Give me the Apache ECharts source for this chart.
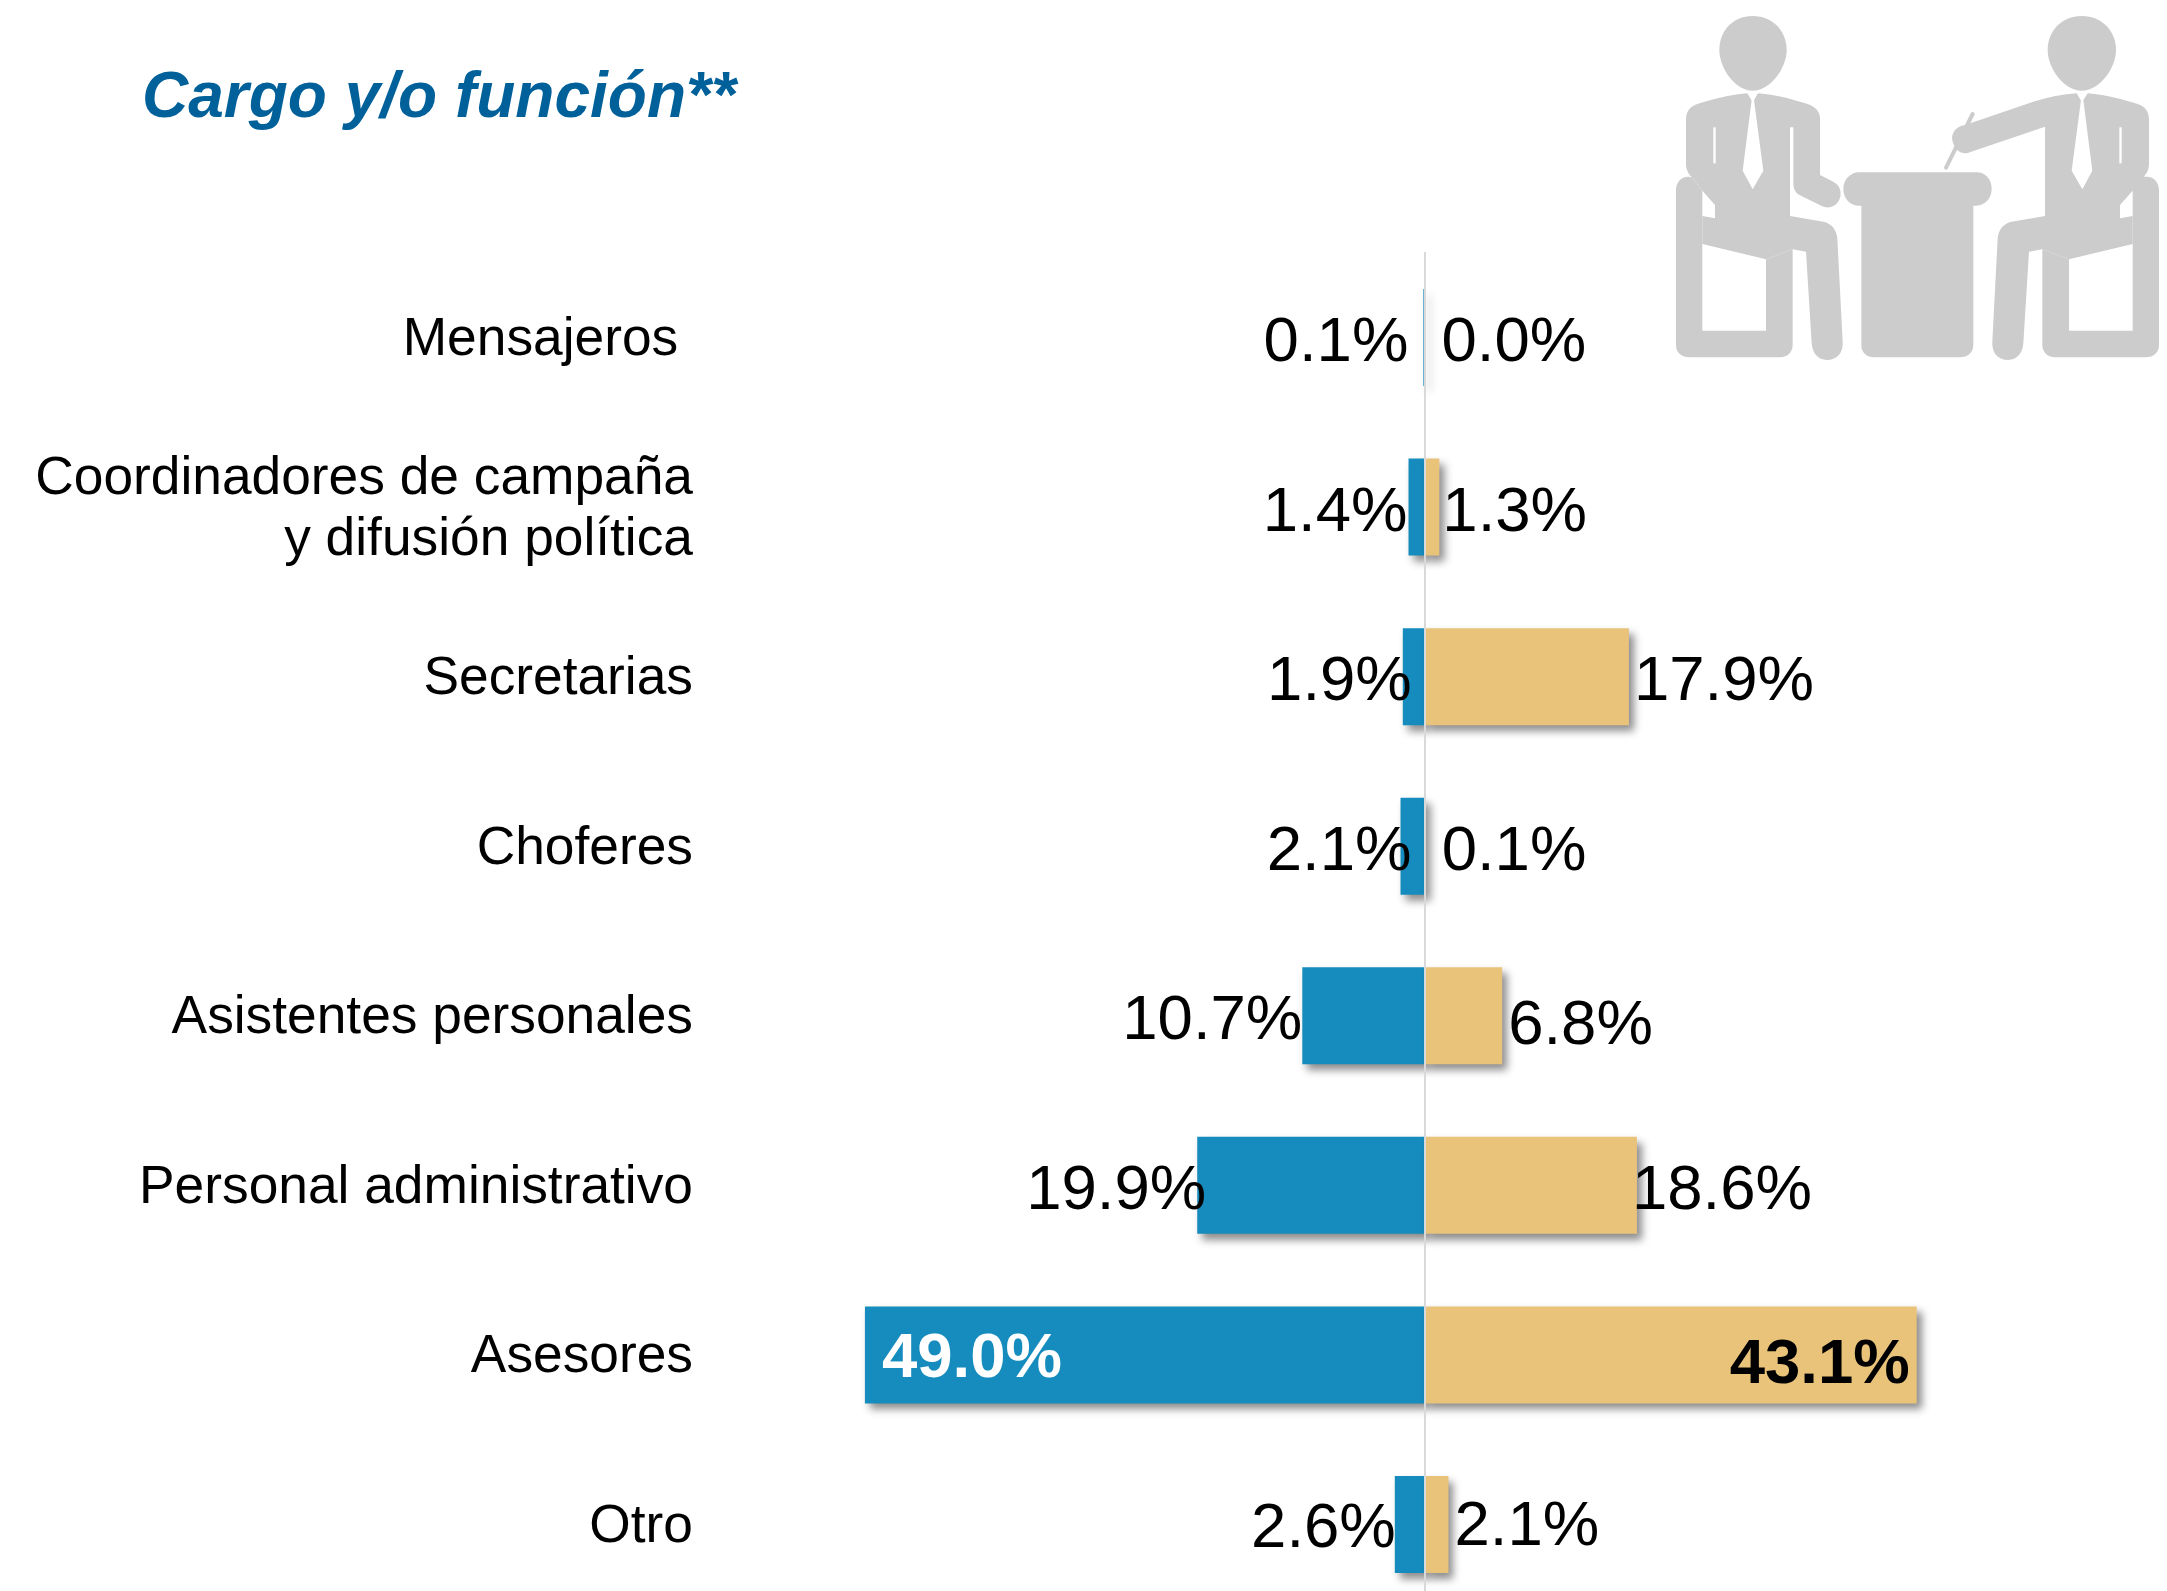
<!DOCTYPE html>
<html><head><meta charset="utf-8">
<style>html,body{margin:0;padding:0;background:#fff}#c{width:2167px;height:1591px}</style>
<script src="https://cdn.jsdelivr.net/npm/echarts@6/dist/echarts.min.js"></script>
</head><body><div id="c"></div>
<script>
const titleText = 'Cargo y/o función**';
const categories = ['Mensajeros ', 'Coordinadores de campaña\ny difusión política', 'Secretarias', 'Choferes', 'Asistentes personales', 'Personal administrativo', 'Asesores', 'Otro'];
const blueValues = [0.1, 1.4, 1.9, 2.1, 10.7, 19.9, 49.0, 2.6];
const goldValues = [0.0, 1.3, 17.9, 0.1, 6.8, 18.6, 43.1, 2.1];
// manual label nudges (layout only)
const blueNudge = [[-15,6],[-1,6],[9,6],[11,6],[0,6],[9,6],[0,5],[1,5]];
const goldNudge = [[17,6],[3,6],[5,6],[16,6],[6,11],[-5,6],[0,11],[6,3]];
const insideRow = 6;

const iconParts = [
 {fill:'#CCCCCC', d:'M278 48 C340 48 380 95 380 150 C380 205 330 272 278 272 C226 272 178 205 178 150 C178 95 216 48 278 48 Z'},
 {fill:'#CCCCCC', d:'M262 280 C205 284 150 300 110 313 C90 320 78 335 78 358 L78 490 C78 508 84 520 95 532 L127 572 L165 615 L165 655 L127 648 L127 732 L318 778 L398 748 L438 755 L455 1030 C457 1060 475 1080 500 1080 C530 1080 550 1060 548 1025 L532 715 C530 690 515 670 490 665 L390 648 L390 382 L400 382 L400 550 C400 568 408 580 420 586 L485 618 C510 630 535 615 541 590 C545 565 535 555 520 545 L480 525 L480 355 C480 335 465 320 445 313 C410 302 350 284 294 280 L278 305 Z'},
 {fill:'#CCCCCC', d:'M85 530 C62 530 48 548 48 570 L48 1035 C48 1058 65 1072 88 1072 L360 1072 C383 1072 398 1055 398 1035 L398 748 L318 778 L318 992 L127 992 L127 572 L95 532 Z'},
 {fill:'#FFFFFF', d:'M262 278 L275 300 L248 512 L278 568 L310 512 L282 300 L294 278 Z'},
 {fill:'#FFFFFF', d:'M160 382 L167 382 L167 490 L160 490 Z'},
 {fill:'#CCCCCC', d:'M598 517 L950 517 C978 517 995 540 995 566 C995 595 975 617 945 617 L940 617 L940 1035 C940 1058 922 1072 900 1072 L642 1072 C620 1072 604 1058 604 1035 L604 617 L598 617 C570 617 550 595 550 566 C550 540 570 517 598 517 Z'},
 {fill:'#CCCCCC', d:'M1265 48 C1328 48 1368 95 1368 150 C1368 205 1318 272 1265 272 C1212 272 1163 205 1163 150 C1163 95 1203 48 1265 48 Z'},
 {fill:'#CCCCCC', d:'M1283 280 C1340 284 1395 300 1435 313 C1455 320 1467 335 1467 358 L1467 490 C1467 508 1461 520 1450 532 L1418 572 L1380 615 L1380 655 L1418 648 L1418 732 L1227 778 L1147 748 L1107 755 L1090 1030 C1088 1060 1070 1080 1045 1080 C1015 1080 995 1060 997 1025 L1013 715 C1015 690 1030 670 1055 665 L1155 648 L1155 380 L925 458 C905 465 885 450 878 425 C870 400 890 378 915 375 L935 368 L1100 312 C1160 292 1210 282 1250 280 L1265 305 Z'},
 {fill:'#CCCCCC', d:'M1418 572 L1418 530 L1460 530 C1483 530 1497 548 1497 570 L1497 1035 C1497 1058 1480 1072 1457 1072 L1185 1072 C1162 1072 1147 1055 1147 1035 L1147 748 L1227 778 L1227 992 L1418 992 Z'},
 {fill:'#FFFFFF', d:'M1283 278 L1270 300 L1297 512 L1267 568 L1235 512 L1263 300 L1251 278 Z'},
 {fill:'#FFFFFF', d:'M1378 382 L1385 382 L1385 490 L1378 490 Z'},
 {fill:'none', stroke:'#CCCCCC', lineWidth:12, d:'M938 342 L858 503'}
];
iconParts.forEach((p,i)=>echarts.graphic.registerShape('iconPart'+i, echarts.graphic.extendPath(p.d,{})));

const pct = p => Math.abs(p.value).toFixed(1) + '%';
const labelBase = {show:true, formatter:pct, color:'#000', fontSize:63.5, fontFamily:'Liberation Sans', distance:0};
const blueData = blueValues.map((v,i)=>({
  value:-v,
  label: i===insideRow
    ? {position:'insideLeft', distance:17, color:'#fff', fontWeight:'bold', offset:blueNudge[i]}
    : {position:'left', offset:blueNudge[i]}
}));
const goldData = goldValues.map((v,i)=>({
  value:v,
  label: i===insideRow
    ? {position:'insideRight', distance:7, color:'#000', fontWeight:'bold', offset:goldNudge[i]}
    : {position:'right', offset:goldNudge[i]}
}));
const shadow = {shadowColor:'rgba(0,0,0,0.45)', shadowBlur:8, shadowOffsetX:5, shadowOffsetY:6};

const chart = echarts.init(document.getElementById('c'), null, {renderer:'canvas'});
chart.setOption({
  animation:false,
  backgroundColor:'#ffffff',
  title:{text:titleText, left:137, top:62, textStyle:{fontSize:64, fontWeight:'bold', fontStyle:'italic', color:'#00609A', fontFamily:'Liberation Sans'}},
  grid:[
    {left:853.5, width:1142, top:252.7, height:1356.6, containLabel:false, outerBoundsMode:'none'},
    {left:853.5, width:1142, top:255.3, height:1356.6, containLabel:false, outerBoundsMode:'none'}
  ],
  xAxis:[
    {gridIndex:0, type:'value', min:-50, max:50, show:false},
    {gridIndex:1, type:'value', min:-50, max:50, show:false}
  ],
  yAxis:[
    {gridIndex:0, type:'category', inverse:true, data:categories, z:5,
      axisLine:{show:true, onZero:true, lineStyle:{color:'#D9D9D9', width:2}},
      axisTick:{show:false}, axisLabel:{show:false}},
    {gridIndex:1, type:'category', inverse:true, data:categories,
      axisLine:{show:false, onZero:false}, axisTick:{show:false},
      axisLabel:{margin:160.5, align:'right', color:'#000', fontSize:53.3, lineHeight:61, fontFamily:'Liberation Sans', interval:0, hideOverlap:false}}
  ],
  series:[
    {name:'Blue', type:'bar', xAxisIndex:0, yAxisIndex:0, barWidth:97, barGap:'-100%', data:blueData, label:labelBase, itemStyle:Object.assign({color:'#168BBD'},shadow)},
    {name:'Gold', type:'bar', xAxisIndex:0, yAxisIndex:0, barWidth:97, barGap:'-100%', data:goldData, label:labelBase, itemStyle:Object.assign({color:'#E9C37A'},shadow)}
  ],
  graphic:[{type:'group', x:1660, y:0, scaleX:1/3, scaleY:1/3, z:1, children:
    iconParts.map((p,i)=>({type:'iconPart'+i, style:{fill:p.fill, stroke:p.stroke||null, lineWidth:p.lineWidth||0, lineCap:'round'}}))
  }]
});
</script></body></html>
